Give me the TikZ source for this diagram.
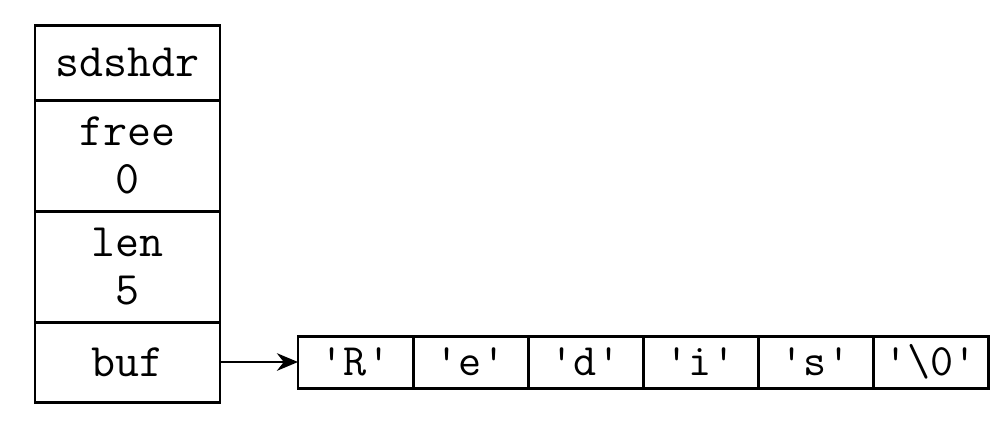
\documentclass[tikz,border=0pt]{standalone}
\usepackage{fontspec}
\usetikzlibrary{arrows.meta,positioning}
\tikzset{
    field/.style={
        shape=rectangle,
        draw=black,
        line width=1.7pt,
        align=center,
        minimum width=3.7cm,
        inner sep=0pt,
        outer sep=0pt,
        font=\ttfamily\fontsize{26.5}{27}\selectfont
    },
    cell/.style={
        shape=rectangle,
        draw=black,
        line width=1.7pt,
        align=center,
        minimum width=2.3cm,
        minimum height=1.04cm,
        inner sep=0pt,
        outer sep=0pt,
        font=\ttfamily\fontsize{25.5}{27}\selectfont
    },
    pointer/.style={
        -{Stealth[length=12pt,width=10pt]},
        line width=1.3pt
    }
}
\newcommand{\q}{\textquotesingle}
\begin{document}
\begin{tikzpicture}
    \useasboundingbox (0,0) rectangle (20.16,-8.62);

    \node[field, minimum height=1.5cm, anchor=north west] (hdr) at (0.7,-0.5) {sdshdr};
    \node[field, minimum height=2.22cm, below=0pt of hdr] (free) {free\\0};
    \node[field, minimum height=2.22cm, below=0pt of free] (len) {len\\5};
    \node[field, minimum height=1.6cm, below=0pt of len] (buf) {buf};

    \node[cell, right=1.56cm of buf] (c0) {\q R\q};
    \node[cell, right=0pt of c0] (c1) {\q e\q};
    \node[cell, right=0pt of c1] (c2) {\q d\q};
    \node[cell, right=0pt of c2] (c3) {\q i\q};
    \node[cell, right=0pt of c3] (c4) {\q s\q};
    \node[cell, right=0pt of c4] (c5) {\q\textbackslash 0\q};

    \draw[pointer] (buf.east) -- (c0.west);
\end{tikzpicture}
\end{document}
